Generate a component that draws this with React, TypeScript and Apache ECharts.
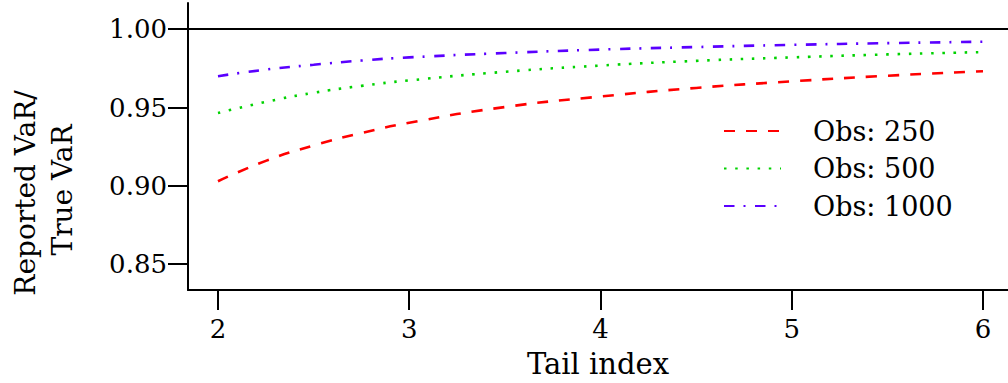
import React, { useEffect, useRef } from "react";
import * as echarts from "echarts";

const tailIndex = [2, 2.25, 2.5, 2.75, 3, 3.5, 4, 4.5, 5, 5.5, 6];
const obs250 = [0.9029, 0.9159, 0.9258, 0.9337, 0.9403, 0.9503, 0.957, 0.9625, 0.9667, 0.9703, 0.9732];
const obs500 = [0.9465, 0.9536, 0.9594, 0.9638, 0.9673, 0.9728, 0.9768, 0.9798, 0.982, 0.9839, 0.9854];
const obs1000 = [0.97, 0.9742, 0.9773, 0.98, 0.982, 0.9848, 0.987, 0.9886, 0.99, 0.9911, 0.992];
const seriesNames = ["Obs: 250", "Obs: 500", "Obs: 1000"];
const xTicks = [2, 3, 4, 5, 6];
const yTicks = [0.85, 0.9, 0.95, 1.0];
const refLevel = 1.0;

const FONT = "DejaVu Serif, serif";

export default function App() {
  const ref = useRef<HTMLDivElement>(null);
  useEffect(() => {
    if (!ref.current) return;
    const chart = echarts.init(ref.current, null, { renderer: "svg" });
    const pairs = (ys: number[]) => tailIndex.map((x, i) => [x, ys[i]]);
    const mk = (name: string, ys: number[], color: string, dash: number[], extra: any = {}) => ({
      name,
      type: "line",
      data: pairs(ys),
      showSymbol: false,
      symbol: "none",
      smooth: 0.5,
      lineStyle: { color, width: 2.6, type: dash, cap: "butt" },
      itemStyle: { color },
      ...extra,
    });
    chart.setOption({
      animation: false,
      backgroundColor: "#ffffff",
      textStyle: { fontFamily: FONT },
      grid: { left: 188, right: 0, top: 3, bottom: 92, containLabel: false },
      xAxis: {
        type: "value",
        min: 1.8432,
        max: 6.1307,
        name: "Tail index",
        nameLocation: "middle",
        nameGap: 59,
        nameTextStyle: { fontFamily: FONT, fontSize: 29, color: "#000" },
        axisLine: { show: true, onZero: false, lineStyle: { color: "#000", width: 2 } },
        axisTick: { show: true, inside: false, length: 20, lineStyle: { color: "#000", width: 2 }, customValues: xTicks },
        axisLabel: { fontFamily: FONT, fontSize: 26, color: "#000", margin: 26, customValues: xTicks, formatter: (v: number) => String(v) },
        splitLine: { show: false },
      },
      yAxis: {
        type: "value",
        min: 0.83345,
        max: 1.01674,
        axisLine: { show: true, onZero: false, lineStyle: { color: "#000", width: 2 } },
        axisTick: { show: true, inside: false, length: 20, lineStyle: { color: "#000", width: 2 }, customValues: yTicks },
        axisLabel: { fontFamily: FONT, fontSize: 26, color: "#000", margin: 21, customValues: yTicks, formatter: (v: number) => v.toFixed(2) },
        splitLine: { show: false },
      },
      legend: {
        show: true,
        orient: "vertical",
        left: 723,
        top: 116,
        padding: 0,
        itemGap: 7.5,
        itemWidth: 57,
        itemHeight: 14,
        data: seriesNames,
        itemStyle: { opacity: 0 },
        textStyle: { fontFamily: FONT, fontSize: 27, color: "#000", lineHeight: 30, padding: [0, 0, 0, 27] },
      },
      series: [
        mk(seriesNames[0], obs250, "#ff0000", [11, 11], {
          markLine: {
            silent: true,
            symbol: "none",
            label: { show: false },
            lineStyle: { color: "#000", width: 2, type: "solid" },
            data: [{ yAxis: refLevel }],
          },
        }),
        mk(seriesNames[1], obs500, "#00d200", [2.5, 8.7]),
        mk(seriesNames[2], obs1000, "#5a00ff", [10.5, 9, 2, 9.5]),
      ],
      graphic: [
        {
          type: "text",
          x: 25,
          y: 193,
          rotation: Math.PI / 2,
          style: { text: "Reported VaR/", fontFamily: FONT, fontSize: 28, fill: "#000", align: "center", verticalAlign: "middle" },
        },
        {
          type: "text",
          x: 62,
          y: 190,
          rotation: Math.PI / 2,
          style: { text: "True VaR", fontFamily: FONT, fontSize: 28, fill: "#000", align: "center", verticalAlign: "middle" },
        },
      ],
    });
    return () => chart.dispose();
  }, []);
  return <div ref={ref} style={{ position: "fixed", left: 0, top: 0, width: 1008, height: 383 }} />;
}
